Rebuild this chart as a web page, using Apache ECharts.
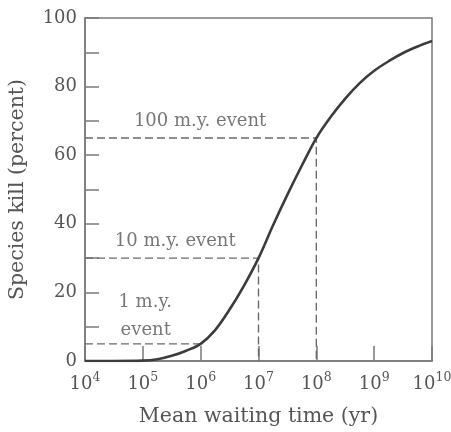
<!DOCTYPE html>
<html>
<head>
<meta charset="utf-8">
<script src="https://cdn.jsdelivr.net/npm/echarts@6/dist/echarts.min.js"></script>
<style>html,body{margin:0;padding:0;background:#fff;}#c{width:451px;height:432px;}</style>
</head>
<body>
<div id="c"></div>
<script>
// Curve: log10 of mean waiting time (yr) and species kill (percent)
var curveExp  = [4, 4.5, 5, 5.25, 5.5, 5.75, 6, 6.25, 6.5, 6.75, 7, 7.25, 7.5, 7.75, 8, 8.25, 8.5, 8.75, 9, 9.25, 9.5, 9.75, 10];
var curveKill = [0, 0, 0.1, 0.5, 1.5, 3, 5, 9, 15, 22, 30, 39.5, 48.5, 57, 65, 71.2, 76.5, 81, 84.6, 87.4, 89.8, 91.7, 93.3];
// Events: waiting time exponent and kill
var eventExp  = [6, 7, 8];
var eventKill = [5, 30, 65];
var eventDrop = [false, true, true];
// Annotations: text, position in data units (exponent, percent)
var noteText = ['100 m.y. event', '10 m.y. event', '1 m.y.', 'event'];
var noteExp  = [5.99, 5.56, 5.04, 5.05];
var noteKill = [70, 35, 17, 9];
// Axis ticks
var xTickExp = [4, 5, 6, 7, 8, 9, 10];
var yLabels  = [0, 20, 40, 60, 80, 100];

var FONT = 'DejaVu Serif';
var TXT = '#555';
var AX = '#7a7a7a';

var curve = curveExp.map(function (e, i) { return [Math.pow(10, e), curveKill[i]]; });
var series = [{
  type: 'line', data: curve, smooth: 0.35, showSymbol: false, z: 5,
  lineStyle: { color: '#3c3c3c', width: 2.6 }
}];
eventExp.forEach(function (e, i) {
  var pts = [[1e4, eventKill[i]], [Math.pow(10, e), eventKill[i]]];
  if (eventDrop[i]) pts.push([Math.pow(10, e), 0]);
  series.push({
    type: 'line', data: pts, showSymbol: false, z: 3,
    lineStyle: { color: '#6a6a6a', width: 1.4, type: [8, 4] }
  });
});
series.push({
  type: 'scatter', symbolSize: 0, z: 6,
  data: noteText.map(function (t, i) { return { value: [Math.pow(10, noteExp[i]), noteKill[i]], name: t }; }),
  label: { show: true, position: 'inside', formatter: '{b}', fontFamily: FONT, fontSize: 18, color: TXT }
});

var chart = echarts.init(document.getElementById('c'), null, { renderer: 'canvas' });
chart.setOption({
  animation: false,
  backgroundColor: '#fff',
  grid: { left: 85, right: 19, top: 18, bottom: 71, show: true, borderColor: AX, borderWidth: 1.5, containLabel: false, outerBoundsMode: 'none' },
  xAxis: {
    type: 'log', logBase: 10, min: 1e4, max: 1e10, interval: 1,
    name: 'Mean waiting time (yr)', nameLocation: 'middle', nameGap: 45,
    nameTextStyle: { fontFamily: FONT, fontSize: 20.5, color: TXT },
    axisLine: { lineStyle: { color: AX, width: 1.5 } },
    axisTick: { inside: true, length: 15, lineStyle: { color: AX, width: 1.5 } },
    splitLine: { show: false },
    minorTick: { show: false },
    axisLabel: {
      margin: 10,
      formatter: function (v) {
        var e = Math.round(Math.log10(v));
        return xTickExp.indexOf(e) >= 0 ? '{b|10}{e|' + e + '}' : '';
      },
      rich: {
        b: { fontFamily: FONT, fontSize: 18, color: TXT, lineHeight: 22, verticalAlign: 'bottom' },
        e: { fontFamily: FONT, fontSize: 12.5, color: TXT, lineHeight: 22, verticalAlign: 'top', padding: [0, 0, 6, 0] }
      }
    }
  },
  yAxis: {
    type: 'value', min: 0, max: 100, interval: 10,
    name: 'Species kill (percent)', nameLocation: 'middle', nameGap: 57,
    nameTextStyle: { fontFamily: FONT, fontSize: 20.5, color: TXT },
    axisLine: { show: true, lineStyle: { color: AX, width: 1.5 } },
    axisTick: { show: true, inside: true, length: 14, lineStyle: { color: AX, width: 1.5 } },
    splitLine: { show: false },
    axisLabel: {
      margin: 8, fontFamily: FONT, fontSize: 18, color: TXT,
      formatter: function (v) { return yLabels.indexOf(v) >= 0 ? String(v) : ''; }
    }
  },
  series: series
});
</script>
</body>
</html>
